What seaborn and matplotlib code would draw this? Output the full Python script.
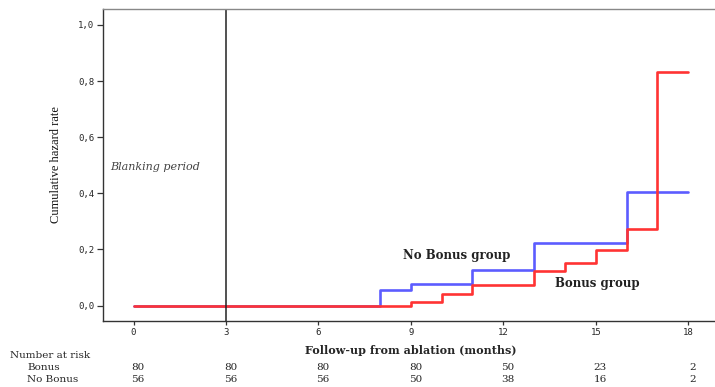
import matplotlib
matplotlib.use("Agg")
import matplotlib.pyplot as plt
import matplotlib.transforms as mtransforms
import seaborn as sns
import pandas as pd

# ---- data ----
nobonus_t = [0, 8, 9, 11, 13, 16, 18]
nobonus_h = [0.0, 0.056, 0.076, 0.127, 0.222, 0.406, 0.406]
bonus_t = [0, 9, 10, 11, 13, 14, 15, 16, 17, 18]
bonus_h = [0.0, 0.012, 0.043, 0.075, 0.124, 0.151, 0.197, 0.272, 0.834, 0.834]

x_ticks = [0, 3, 6, 9, 12, 15, 18]
y_ticks = [0.0, 0.2, 0.4, 0.6, 0.8, 1.0]
y_tick_labels = ["0,0", "0,2", "0,4", "0,6", "0,8", "1,0"]
risk_times = [0, 3, 6, 9, 12, 15, 18]
risk_bonus = [80, 80, 80, 80, 50, 23, 2]
risk_nobonus = [56, 56, 56, 50, 38, 16, 2]

df = pd.concat([
    pd.DataFrame({"t": nobonus_t, "h": nobonus_h, "g": "No Bonus"}),
    pd.DataFrame({"t": bonus_t, "h": bonus_h, "g": "Bonus"}),
])

sns.set_style("white")
fig = plt.figure(figsize=(7.15, 3.87), dpi=100)
ax = fig.add_axes([102.7 / 715, 66 / 387, 1 - 102.7 / 715, (321 - 9) / 387])

sns.lineplot(data=df, x="t", y="h", hue="g", hue_order=["No Bonus", "Bonus"],
             palette={"No Bonus": "#5c5cff", "Bonus": "#ff3333"},
             drawstyle="steps-post", estimator=None, linewidth=1.9,
             legend=False, ax=ax)

ax.axvline(3, color="#222222", linewidth=1.1)

ax.set_xlim(-1.0, 18.87)
ax.set_ylim(-0.055, 1.057)
ax.set_xticks(x_ticks)
ax.set_xticklabels([str(v) for v in x_ticks], family="DejaVu Sans Mono", fontsize=6.5)
ax.set_yticks(y_ticks)
ax.set_yticklabels(y_tick_labels, family="DejaVu Sans Mono", fontsize=6.5)
ax.tick_params(axis="y", direction="out", length=4, width=0.9, color="#333333", pad=2, left=True)
ax.tick_params(axis="x", direction="out", length=3, width=0.9, color="#333333", pad=2, bottom=True)

for s in ["left", "bottom"]:
    ax.spines[s].set_color("#333333")
    ax.spines[s].set_linewidth(1.0)
ax.spines["top"].set_color("#888888")
ax.spines["top"].set_linewidth(1.0)
ax.spines["right"].set_visible(False)

ax.set_xlabel("Follow-up from ablation (months)", family="DejaVu Serif",
              fontweight="bold", fontsize=8, labelpad=2)
ax.set_ylabel("Cumulative hazard rate", family="Liberation Serif", fontsize=9,
              color="#111111", labelpad=6)
ax.xaxis.set_label_coords((411 - 102.7) / (715 - 102.7), -(345 - 321) / 312)
ax.yaxis.set_label_coords(-(102.7 - 62) / (715 - 102.7), (321 - 165) / 312)

ax.text(-0.76, 0.494, "Blanking period", family="DejaVu Serif", style="italic",
        fontsize=8, color="#444444", ha="left", va="center")
ax.text(8.75, 0.178, "No Bonus group", family="DejaVu Serif", fontweight="bold",
        fontsize=8.5, color="#222222", ha="left", va="center")
ax.text(13.67, 0.077, "Bonus group", family="DejaVu Serif", fontweight="bold",
        fontsize=8.5, color="#222222", ha="left", va="center")

# number at risk table
fig.text(10 / 715, 1 - 356 / 387, "Number at risk", family="DejaVu Serif",
         fontsize=7.5, ha="left", va="center")
fig.text(27 / 715, 1 - 367.7 / 387, "Bonus", family="DejaVu Serif",
         fontsize=7.5, ha="left", va="center")
fig.text(27 / 715, 1 - 379 / 387, "No Bonus", family="DejaVu Serif",
         fontsize=7.5, ha="left", va="center")
trans = mtransforms.blended_transform_factory(ax.transData, fig.transFigure)
for t, b, n in zip(risk_times, risk_bonus, risk_nobonus):
    ax.text(t + 0.15, 1 - 367.7 / 387, str(b), transform=trans, family="DejaVu Serif",
            fontsize=7.5, ha="center", va="center", clip_on=False)
    ax.text(t + 0.15, 1 - 379 / 387, str(n), transform=trans, family="DejaVu Serif",
            fontsize=7.5, ha="center", va="center", clip_on=False)

fig.savefig("out.png", dpi=100)
